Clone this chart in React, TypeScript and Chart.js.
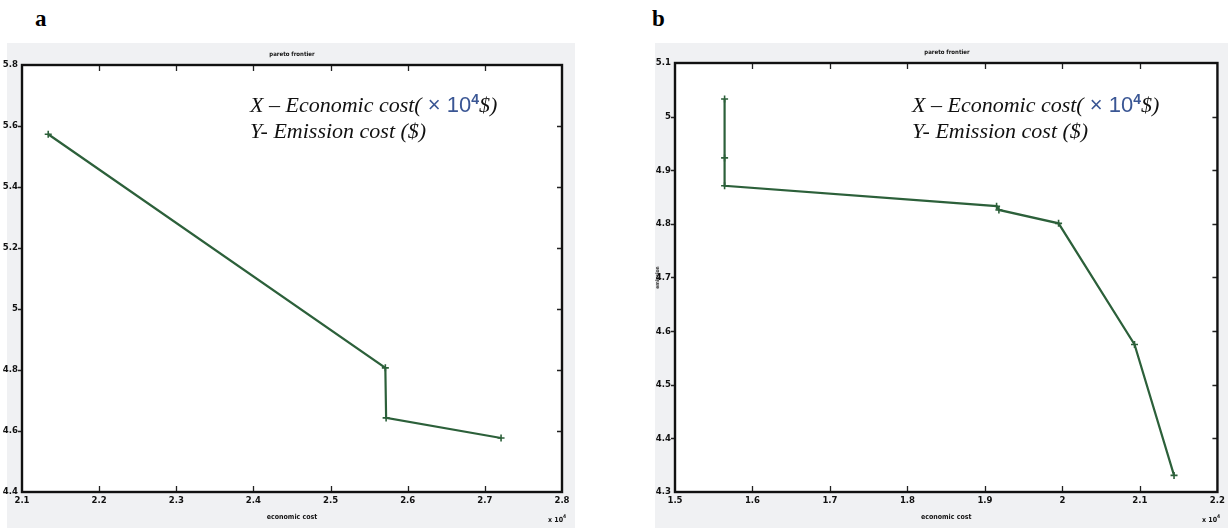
import React, { useEffect, useRef } from "react";
import { Chart, registerables } from "chart.js";
Chart.register(...registerables);

// Panel a data (economic cost ×10^4 $, emission cost)
const econA = [2.134, 2.571, 2.572, 2.721];
const emisA = [5.573, 4.807, 4.643, 4.577];
const xTicksA = [2.1, 2.2, 2.3, 2.4, 2.5, 2.6, 2.7, 2.8];
const xLabelsA = ["2.1", "2.2", "2.3", "2.4", "2.5", "2.6", "2.7", "2.8"];
const yTicksA = [4.4, 4.6, 4.8, 5.0, 5.2, 5.4, 5.6, 5.8];
const yLabelsA = ["4.4", "4.6", "4.8", "5", "5.2", "5.4", "5.6", "5.8"];

// Panel b data
const econB = [1.564, 1.564, 1.564, 1.915, 1.918, 1.995, 2.093, 2.144];
const emisB = [5.033, 4.923, 4.871, 4.833, 4.826, 4.801, 4.575, 4.331];
const xTicksB = [1.5, 1.6, 1.7, 1.8, 1.9, 2.0, 2.1, 2.2];
const xLabelsB = ["1.5", "1.6", "1.7", "1.8", "1.9", "2", "2.1", "2.2"];
const yTicksB = [4.3, 4.4, 4.5, 4.6, 4.7, 4.8, 4.9, 5.0, 5.1];
const yLabelsB = ["4.3", "4.4", "4.5", "4.6", "4.7", "4.8", "4.9", "5", "5.1"];

const LINE = "#2c603a";
const TICKFONT = { family: '"DejaVu Sans Condensed", "Liberation Sans Narrow", "Liberation Sans", sans-serif', size: 9.5, weight: "bold" as const };

const framePlugin = {
  id: "matlabFrame",
  beforeDraw(chart: any) {
    const { ctx, chartArea } = chart;
    const { left, right, top, bottom } = chartArea;
    ctx.save();
    ctx.fillStyle = "#ffffff";
    ctx.fillRect(left, top, right - left, bottom - top);
    ctx.restore();
  },
  afterDraw(chart: any) {
    const { ctx, chartArea } = chart;
    const { left, right, top, bottom } = chartArea;
    const x = chart.scales.x;
    const y = chart.scales.y;
    ctx.save();
    ctx.strokeStyle = "#222";
    ctx.lineWidth = 1.3;
    ctx.beginPath();
    x.ticks.forEach((t: any) => {
      const px = Math.round(x.getPixelForValue(t.value)) + 0.5;
      if (px - left < 2 || right - px < 2) return;
      ctx.moveTo(px, bottom);
      ctx.lineTo(px, bottom - 6);
      ctx.moveTo(px, top);
      ctx.lineTo(px, top + 6);
    });
    y.ticks.forEach((t: any) => {
      const py = Math.round(y.getPixelForValue(t.value)) + 0.5;
      if (py - top < 2 || bottom - py < 2) return;
      ctx.moveTo(left - 4, py);
      ctx.lineTo(left, py);
      ctx.moveTo(right, py);
      ctx.lineTo(right - 5, py);
    });
    ctx.stroke();
    ctx.lineWidth = 2.4;
    ctx.strokeStyle = "#111";
    ctx.strokeRect(left, top, right - left, bottom - top);
    ctx.restore();
  },
};

type PanelProps = {
  econ: number[];
  emis: number[];
  xTicks: number[];
  xLabels: string[];
  yTicks: number[];
  yLabels: string[];
  width: number;
  height: number;
  pad: { top: number; right: number };
  yWidth: number;
  yTitle?: string;
};

function Panel(p: PanelProps) {
  const ref = useRef<HTMLCanvasElement | null>(null);
  useEffect(() => {
    if (!ref.current) return;
    const chart = new Chart(ref.current, {
      type: "scatter",
      data: {
        datasets: [
          {
            data: p.econ.map((v, i) => ({ x: v, y: p.emis[i] })),
            showLine: true,
            borderColor: LINE,
            backgroundColor: LINE,
            borderWidth: 2.2,
            pointStyle: "cross",
            pointRadius: 3.5,
            pointBorderWidth: 1.6,
            pointBorderColor: LINE,
          },
        ],
      },
      options: {
        responsive: false,
        animation: false,
        layout: { padding: { top: p.pad.top, right: p.pad.right, left: 0, bottom: 0 } },
        plugins: { legend: { display: false }, tooltip: { enabled: false }, title: { display: false } },
        scales: {
          x: {
            type: "linear",
            min: p.xTicks[0],
            max: p.xTicks[p.xTicks.length - 1],
            afterBuildTicks: (s: any) => {
              s.ticks = p.xTicks.map((v) => ({ value: v }));
            },
            afterFit: (s: any) => {
              s.height = 36;
            },
            grid: { display: false, drawTicks: false },
            border: { display: false },
            ticks: {
              padding: 3,
              color: "#111",
              font: TICKFONT,
              autoSkip: false,
              maxRotation: 0,
              callback: (_v: any, i: number) => p.xLabels[i],
            },
            title: {
              display: true,
              text: "economic cost",
              color: "#111",
              font: { family: '"DejaVu Sans Condensed", "Liberation Sans Narrow", sans-serif', size: 7, weight: "bold" },
              padding: { top: 0, bottom: 7 },
            },
          },
          y: {
            type: "linear",
            min: p.yTicks[0],
            max: p.yTicks[p.yTicks.length - 1],
            afterBuildTicks: (s: any) => {
              s.ticks = p.yTicks.map((v) => ({ value: v }));
            },
            afterFit: (s: any) => {
              s.width = p.yWidth;
            },
            grid: { display: false, drawTicks: false },
            border: { display: false },
            ticks: {
              padding: 4,
              color: "#111",
              font: TICKFONT,
              autoSkip: false,
              callback: (_v: any, i: number) => p.yLabels[i],
            },
            title: {
              display: !!p.yTitle,
              text: p.yTitle || "",
              color: "#333",
              font: { family: '"DejaVu Sans Condensed", sans-serif', size: 5, weight: "bold" },
              padding: { top: 0, bottom: 0 },
            },
          },
        },
      },
      plugins: [framePlugin],
    } as any);
    return () => chart.destroy();
  }, []);
  return <canvas ref={ref} width={p.width} height={p.height} style={{ width: p.width, height: p.height, display: "block" }} />;
}

const serif = '"Liberation Serif", "Times New Roman", serif';
const sans = '"Liberation Sans", Arial, sans-serif';

function Annotation({ left, top }: { left: number; top: number }) {
  return (
    <div style={{ position: "absolute", left, top, fontFamily: serif, fontStyle: "italic", fontSize: 22, lineHeight: "26px", color: "#111", whiteSpace: "nowrap" }}>
      <div>
        X – Economic cost(
        <span style={{ fontStyle: "normal", fontFamily: sans, color: "#3a5694", fontSize: 22 }}>
          {" "}× 10<sup style={{ fontSize: 14, fontWeight: "bold", verticalAlign: "8px", lineHeight: 0 }}>4</sup>
        </span>
        $)
      </div>
      <div>Y- Emission cost ($)</div>
    </div>
  );
}

const smallBold: React.CSSProperties = {
  position: "absolute",
  fontFamily: '"DejaVu Sans Condensed", "Liberation Sans Narrow", sans-serif',
  fontWeight: "bold",
  fontSize: 7,
  color: "#111",
  whiteSpace: "nowrap",
};

export default function App() {
  return (
    <div style={{ position: "absolute", left: 0, top: 0, width: 1228, height: 528, background: "#fff", overflow: "hidden" }}>
      {/* panel a */}
      <div style={{ position: "absolute", left: 35, top: 6, fontFamily: serif, fontWeight: "bold", fontSize: 23 }}>a</div>
      <div style={{ position: "absolute", left: 7, top: 43, width: 568, height: 485, background: "#f0f1f3" }} />
      <div style={{ position: "absolute", left: 0, top: 43, width: 575, height: 485 }}>
        <Panel econ={econA} emis={emisA} xTicks={xTicksA} xLabels={xLabelsA} yTicks={yTicksA} yLabels={yLabelsA} width={575} height={485} pad={{ top: 22, right: 13 }} yWidth={22} />
      </div>
      <div style={{ ...smallBold, left: 292, top: 50, transform: "translateX(-50%)", fontSize: 6 }}>pareto frontier</div>
      <div style={{ ...smallBold, left: 548, top: 516 }}>
        x 10<sup style={{ fontSize: 5, verticalAlign: "4px", lineHeight: 0 }}>4</sup>
      </div>
      <Annotation left={250} top={92} />

      {/* panel b */}
      <div style={{ position: "absolute", left: 652, top: 6, fontFamily: serif, fontWeight: "bold", fontSize: 23 }}>b</div>
      <div style={{ position: "absolute", left: 655, top: 43, width: 573, height: 485, background: "#f0f1f3" }} />
      <div style={{ position: "absolute", left: 655, top: 43, width: 573, height: 485 }}>
        <Panel econ={econB} emis={emisB} xTicks={xTicksB} xLabels={xLabelsB} yTicks={yTicksB} yLabels={yLabelsB} width={573} height={485} pad={{ top: 20, right: 9 }} yWidth={20} yTitle="emission" />
      </div>
      <div style={{ ...smallBold, left: 947, top: 48, transform: "translateX(-50%)", fontSize: 6 }}>pareto frontier</div>
      <div style={{ ...smallBold, left: 1202, top: 516 }}>
        x 10<sup style={{ fontSize: 5, verticalAlign: "4px", lineHeight: 0 }}>4</sup>
      </div>
      <Annotation left={912} top={92} />
    </div>
  );
}
